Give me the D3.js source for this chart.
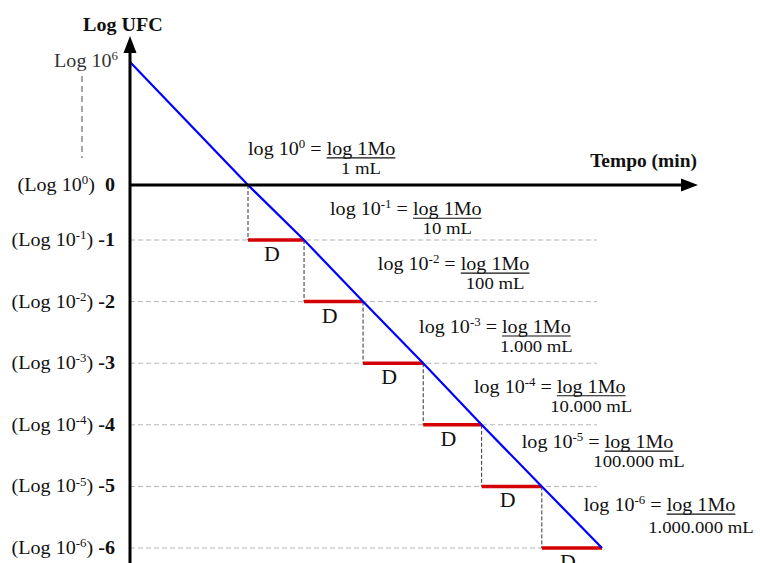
<!DOCTYPE html>
<html>
<head>
<meta charset="utf-8">
<script src="https://cdn.jsdelivr.net/npm/d3@7"></script>
<style>
  body { margin: 0; background: #fff; }
  svg { display: block; }
  text { font-family: "Liberation Serif", "Times New Roman", serif; fill: #111; }
</style>
</head>
<body>
<svg id="chart" width="760" height="563"></svg>
<script>
// log levels shown on the y axis and their exponents
var levels = [0, -1, -2, -3, -4, -5, -6];
var exps = ["0", "-1", "-2", "-3", "-4", "-5", "-6"];
// time where the survival line crosses each level
var crossTimes = [2, 2.95, 3.95, 4.97, 5.96, 6.98, 8];
// survival line: starts at Log 10^6 (drawn at broken-axis position 2)
var lineTimes = [0].concat(crossTimes);
var lineLogs = [2].concat(levels);
// fraction denominators
var denoms = ["1 mL", "10 mL", "100 mL", "1.000 mL", "10.000 mL", "100.000 mL", "1.000.000 mL"];

// where each annotation sits, in data units (time, log)
var noteAnchor = [[2.0, 0.49], [3.39, -0.55], [4.2, -1.49], [4.9, -2.51], [5.83, -3.48], [6.64, -4.38], [7.69, -5.4]];

var SX = 1.07; // text is slightly stretched horizontally in the original
var FS = 18.8;

var svg = d3.select("#chart");

var x = d3.scaleLinear().domain([0, 8]).range([130, 602]);
var y = d3.scaleLinear().domain([-6, -1, 0, 2]).range([548, 240, 185, 62]);

function txt(g, px, py, parts, size, anchor) {
  var t = g.append("text")
    .attr("transform", "translate(" + px + "," + py + ") scale(" + SX + ",1)")
    .attr("text-anchor", anchor || "start")
    .style("font-size", size + "px");
  var prevSup = false;
  parts.forEach(function(p) {
    var s = t.append("tspan").text(p.s);
    if (p.sup) {
      s.style("font-size", (size * 0.64) + "px").attr("dy", -size * 0.36);
    } else if (prevSup) {
      s.attr("dy", size * 0.36);
    }
    if (p.bold) s.style("font-weight", "bold");
    prevSup = !!p.sup;
  });
  return t;
}

// gridlines
svg.append("g").selectAll("line")
  .data(levels.slice(1))
  .enter().append("line")
  .attr("x1", x(0)).attr("x2", x(8) - 5)
  .attr("y1", function(d) { return y(d); })
  .attr("y2", function(d) { return y(d); })
  .attr("stroke", "#b5b5b5").attr("stroke-width", 1)
  .attr("stroke-dasharray", "5,3");

// vertical dashed drops
svg.append("g").selectAll("line")
  .data(d3.range(levels.length - 1))
  .enter().append("line")
  .attr("x1", function(i) { return x(crossTimes[i]); })
  .attr("x2", function(i) { return x(crossTimes[i]); })
  .attr("y1", function(i) { return y(levels[i]); })
  .attr("y2", function(i) { return y(levels[i + 1]); })
  .attr("stroke", "#333").attr("stroke-width", 1)
  .attr("stroke-dasharray", "4,2");

// red D segments
svg.append("g").selectAll("line")
  .data(d3.range(levels.length - 1))
  .enter().append("line")
  .attr("x1", function(i) { return x(crossTimes[i]); })
  .attr("x2", function(i) { return x(crossTimes[i + 1]); })
  .attr("y1", function(i) { return y(levels[i + 1]); })
  .attr("y2", function(i) { return y(levels[i + 1]); })
  .attr("stroke", "#d40000").attr("stroke-width", 3.5);

// D labels (the last one is cut by the bottom edge, as in the original)
var gD = svg.append("g");
d3.range(levels.length - 1).forEach(function(i) {
  txt(gD, (x(crossTimes[i]) + x(crossTimes[i + 1])) / 2 - 4, y(levels[i + 1]) + 21,
    [{ s: "D" }], 20.5, "middle");
});

// survival line
var pts = lineTimes.map(function(t, i) { return [t, lineLogs[i]]; });
svg.append("path")
  .datum(pts)
  .attr("fill", "none")
  .attr("stroke", "#0000ff")
  .attr("stroke-width", 2.2)
  .attr("d", d3.line().x(function(d) { return x(d[0]); }).y(function(d) { return y(d[1]); }));

// axes
var axisG = svg.append("g");
axisG.append("line")
  .attr("x1", x(0)).attr("x2", x(0)).attr("y1", 48).attr("y2", 563)
  .attr("stroke", "#000").attr("stroke-width", 3);
axisG.append("path")
  .attr("d", "M" + x(0) + ",36 L" + (x(0) - 6.5) + ",53 L" + (x(0) + 6.5) + ",53 Z")
  .attr("fill", "#000");
axisG.append("line")
  .attr("x1", x(0)).attr("x2", 686).attr("y1", y(0)).attr("y2", y(0))
  .attr("stroke", "#000").attr("stroke-width", 3);
axisG.append("path")
  .attr("d", "M698," + y(0) + " L681," + (y(0) - 6.5) + " L681," + (y(0) + 6.5) + " Z")
  .attr("fill", "#000");

// axis titles
txt(svg, 83, 31, [{ s: "Log UFC", bold: true }], FS);
txt(svg, 697, 167, [{ s: "Tempo (min)", bold: true }], 18.2, "end");

// y tick labels
var gY = svg.append("g");
levels.forEach(function(v, i) {
  var parts = [{ s: "(Log 10" }, { s: exps[i], sup: true },
    { s: v === 0 ? ")\u00a0\u00a0" : ")\u00a0" }, { s: String(v), bold: true }];
  txt(gY, 115, y(v) + 6, parts, FS, "end");
});
txt(gY, 118, y(2) + 5, [{ s: "Log 10" }, { s: "6", sup: true }], FS, "end").style("fill", "#333");
gY.append("line")
  .attr("x1", 82).attr("x2", 82).attr("y1", y(2) + 14).attr("y2", y(0) - 27)
  .attr("stroke", "#888").attr("stroke-width", 1.5).attr("stroke-dasharray", "6,4");

// fraction annotations
var gN = svg.append("g");
noteAnchor.forEach(function(a, i) {
  var px = x(a[0]), py = y(a[1]);
  var g = gN.append("g").attr("transform", "translate(" + px + "," + py + ") scale(" + SX + ",1)");
  var left = g.append("text").style("font-size", FS + "px");
  left.append("tspan").text("log 10");
  left.append("tspan").text(exps[i]).style("font-size", (FS * 0.64) + "px").attr("dy", -FS * 0.36);
  left.append("tspan").text("\u00a0=\u00a0").attr("dy", FS * 0.36);
  var w = left.node().getComputedTextLength();
  var num = g.append("text").attr("x", w).style("font-size", FS + "px").text("log 1Mo");
  var n = num.node().getComputedTextLength();
  g.append("line").attr("x1", w).attr("x2", w + n).attr("y1", 3).attr("y2", 3)
    .attr("stroke", "#111").attr("stroke-width", 1.2);
  g.append("text").attr("x", w + n / 2).attr("y", i === 6 ? 22 : 19)
    .attr("text-anchor", "middle").style("font-size", "17.5px").text(denoms[i]);
});
</script>
</body>
</html>
